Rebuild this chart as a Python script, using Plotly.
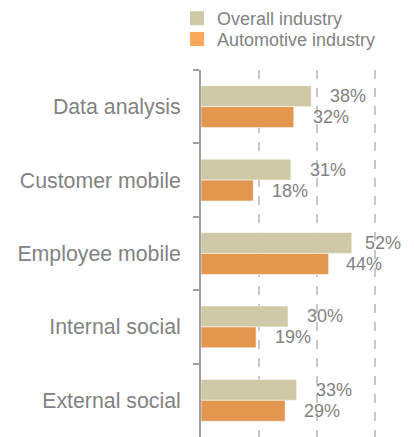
import plotly.graph_objects as go

categories = ["Data analysis", "Customer mobile", "Employee mobile", "Internal social", "External social"]
overall = [38, 31, 52, 30, 33]
automotive = [32, 18, 44, 19, 29]
series_names = ["Overall industry", "Automotive industry"]

OVERALL_COLOR = "#CFC9A7"
AUTO_COLOR = "#E3964E"
AUTO_LEGEND_COLOR = "#FBA85A"
TEXT_COLOR = "#828282"
AXIS_COLOR = "#A0A0A0"
FONT = "Liberation Sans, Arial, sans-serif"

# labels of the longest bars sit a little closer so they stay inside the frame
LABEL_GAP = 17
LABEL_GAP_TIGHT = {"Employee mobile": (11, 15)}

fig = go.Figure()

# Bars (legend handled by the marker-only traces below)
for name, vals, color in [(series_names[0], overall, OVERALL_COLOR),
                          (series_names[1], automotive, AUTO_COLOR)]:
    fig.add_trace(go.Bar(
        x=vals, y=categories, orientation="h", name=name,
        marker=dict(color=color, line=dict(color="rgba(255,255,255,0.55)", width=1)),
        showlegend=False, hoverinfo="x+y",
    ))

# Legend swatches, one legend per row for tight spacing
for name, color, leg in [(series_names[0], OVERALL_COLOR, "legend"),
                         (series_names[1], AUTO_LEGEND_COLOR, "legend2")]:
    fig.add_trace(go.Scatter(
        x=[None], y=[None], mode="markers", name=name,
        marker=dict(symbol="square", size=14, color=color),
        showlegend=True, legend=leg,
    ))

# Value labels beside each bar
for cat, ov, au in zip(categories, overall, automotive):
    gaps = LABEL_GAP_TIGHT.get(cat, (LABEL_GAP, LABEL_GAP))
    for val, shift, gap in [(ov, 10.5, gaps[0]), (au, -10.5, gaps[1])]:
        fig.add_annotation(
            x=val, y=cat, text=f"{val}%", showarrow=False,
            xanchor="left", yanchor="middle", xshift=gap, yshift=shift,
            font=dict(family=FONT, size=18, color=TEXT_COLOR),
        )

legend_style = dict(
    x=-0.118, xanchor="left", yref="container", yanchor="top",
    font=dict(family=FONT, size=18, color=TEXT_COLOR),
    bgcolor="rgba(0,0,0,0)", itemclick=False, itemdoubleclick=False,
)

fig.update_layout(
    width=414, height=437,
    margin=dict(l=201, r=10, t=70, b=0),
    paper_bgcolor="white", plot_bgcolor="white",
    barmode="group", bargap=0.43, bargroupgap=0,
    font=dict(family=FONT, color=TEXT_COLOR),
    legend=dict(y=1.0, **legend_style),
    legend2=dict(y=1.0 - 20.7 / 437, **legend_style),
    xaxis=dict(
        range=[0, 70], tick0=0, dtick=20, showticklabels=False,
        showgrid=True, gridcolor="#C8C8C8", griddash="dash", gridwidth=1.5,
        zeroline=False, showline=False, ticks="",
    ),
    yaxis=dict(
        autorange="reversed", showgrid=False, zeroline=False,
        showline=True, linecolor=AXIS_COLOR, linewidth=2,
        ticks="outside", ticklen=6, tickwidth=2, tickcolor=AXIS_COLOR,
        tickson="boundaries", ticklabelstandoff=14,
        tickfont=dict(family=FONT, size=21.3, color=TEXT_COLOR),
    ),
)

fig.write_html("out.html")
